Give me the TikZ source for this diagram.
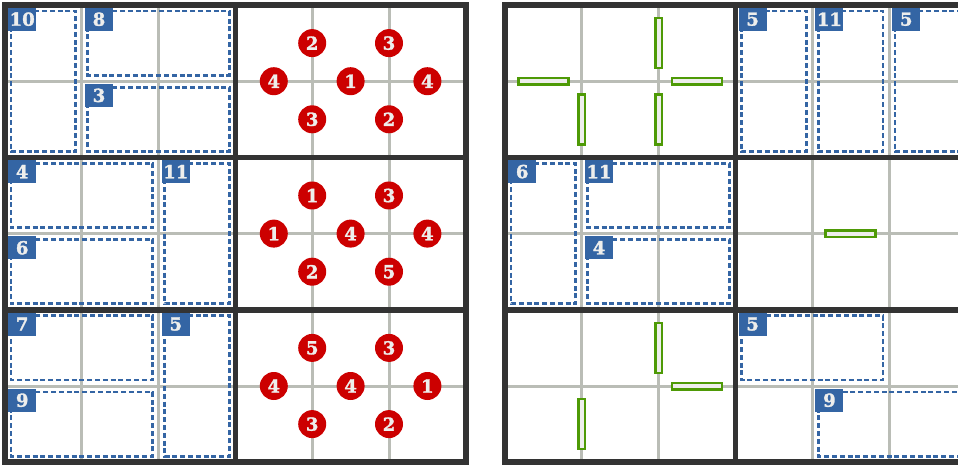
\documentclass[tikz,border=0pt]{standalone}
\usepackage{fontspec}
\newfontfamily\numfont{DejaVu Serif Bold}[FakeBold=1.6]
\definecolor{tangoblue}{HTML}{3465A4}
\definecolor{tangored}{HTML}{CC0000}
\definecolor{tangogreen}{HTML}{4E9A06}
\definecolor{gridgray}{HTML}{BABDB6}
\definecolor{darkline}{HTML}{333333}
\definecolor{paper}{HTML}{EEEEEC}
\newcommand{\tagfont}{\numfont\fontsize{18}{18}\selectfont}
% cage: name, sum, top-left corner, bottom-right corner
\newcommand{\drawcage}[4]{%
  \draw[cage] ([xshift=6pt,yshift=-6pt]#3) rectangle ([xshift=-6pt,yshift=6pt]#4);
  \node[tag] (#1) at ([xshift=3pt,yshift=-2.5pt]#3) {#2};}

\begin{document}
\begin{tikzpicture}[x=76.8pt, y=-76.2pt,
          gridln/.style={draw=gridgray, line width=3pt},
          blockln/.style={draw=darkline, line width=5.5pt},
          cage/.style={draw=tangoblue, line width=2.8pt,
                       dash pattern=on 5pt off 2.8pt},
          tag/.style={rectangle, fill=tangoblue, text=paper, anchor=north west,
                      minimum width=28pt, minimum height=23pt, inner sep=0pt,
                      font=\tagfont},
          dot/.style={circle, fill=tangored, text=paper, minimum size=28pt,
                      inner sep=0pt, font=\tagfont},
          hbar/.style={rectangle, draw=tangogreen, fill=paper, line width=2.5pt,
                       minimum width=50pt, minimum height=6.5pt, inner sep=0pt},
          vbar/.style={hbar, minimum width=6.5pt, minimum height=50pt},
        ]
          \useasboundingbox (-5pt,5pt) rectangle (953pt,-460pt);
          \clip (-5pt,5pt) rectangle (953pt,-460pt);
          % left grid
          \foreach \i in {1,...,5}{
            \draw[gridln] (\i,0)--(\i,6);
            \draw[gridln] (0,\i)--(6,\i);}
          \draw[blockln] (0,0) rectangle (6,6);
          \draw[blockln] (3,0)--(3,6) (0,2)--(6,2) (0,4)--(6,4);
          \drawcage{lc10}{10}{0,0}{1,2}
          \drawcage{lc8}{8}{1,0}{3,1}
          \drawcage{lc3}{3}{1,1}{3,2}
          \drawcage{lc4}{4}{0,2}{2,3}
          \drawcage{lc6}{6}{0,3}{2,4}
          \drawcage{lc11}{11}{2,2}{3,4}
          \drawcage{lc7}{7}{0,4}{2,5}
          \drawcage{lc9}{9}{0,5}{2,6}
          \drawcage{lc5}{5}{2,4}{3,6}
          \foreach \x/\y/\v [count=\k] in {4/0.5/2, 5/0.5/3, 3.5/1/4, 4.5/1/1,
              5.5/1/4, 4/1.5/3, 5/1.5/2, 4/2.5/1, 5/2.5/3, 3.5/3/1, 4.5/3/4,
              5.5/3/4, 4/3.5/2, 5/3.5/5, 4/4.5/5, 5/4.5/3, 3.5/5/4, 4.5/5/4,
              5.5/5/1, 4/5.5/3, 5/5.5/2}
            \node[dot] (s\k) at (\x,\y) {\v};
          % right grid
          \begin{scope}[xshift=500pt]
            \foreach \i in {1,...,5}{
              \draw[gridln] (\i,0)--(\i,6);
              \draw[gridln] (0,\i)--(6,\i);}
            \draw[blockln] (0,0) rectangle (6,6);
            \draw[blockln] (3,0)--(3,6) (0,2)--(6,2) (0,4)--(6,4);
            \drawcage{rc5a}{5}{3,0}{4,2}
            \drawcage{rc11a}{11}{4,0}{5,2}
            \drawcage{rc5b}{5}{5,0}{6,2}
            \drawcage{rc6}{6}{0,2}{1,4}
            \drawcage{rc11b}{11}{1,2}{3,3}
            \drawcage{rc4}{4}{1,3}{3,4}
            \drawcage{rc5c}{5}{3,4}{5,5}
            \drawcage{rc9}{9}{4,5}{6,6}
            \foreach \x/\y [count=\k] in {2/0.5, 1/1.5, 2/1.5, 2/4.5, 1/5.5}
              \node[vbar] (v\k) at (\x,\y) {};
            \foreach \x/\y [count=\k] in {0.5/1, 2.5/1, 4.5/3, 2.5/5}
              \node[hbar] (h\k) at (\x,\y) {};
          \end{scope}
        \end{tikzpicture}
\end{document}
